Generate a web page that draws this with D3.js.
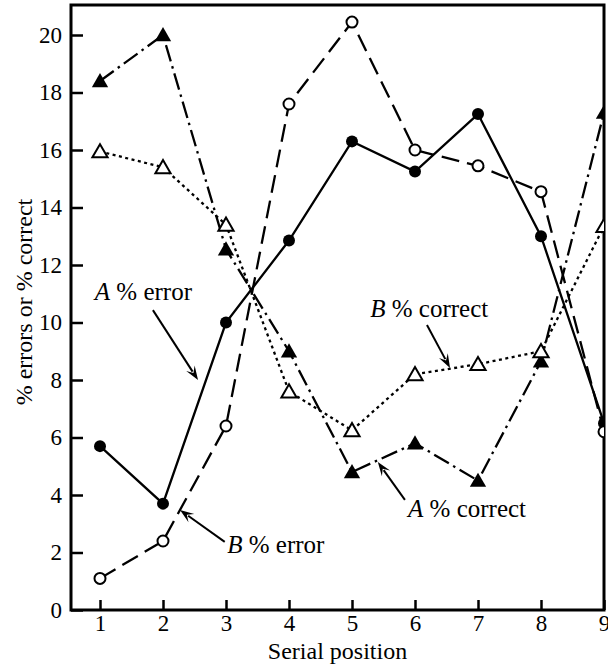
<!DOCTYPE html>
<html><head><meta charset="utf-8">
<script src="https://cdn.jsdelivr.net/npm/d3@7"></script>
<style>html,body{margin:0;padding:0;background:#fff;} svg{display:block;} svg text{font-family:"Liberation Serif","Tinos","DejaVu Serif",serif !important;fill:#000;}</style>
</head><body>
<svg id="c" width="608" height="668"></svg>
<script>
const positions = [1,2,3,4,5,6,7,8,9];
const xTicks = [1,2,3,4,5,6,7,8,9];
const yTicks = [0,2,4,6,8,10,12,14,16,18,20];
const aError   = [5.7, 3.7, 10.0, 12.85, 16.3, 15.25, 17.25, 13.0, 6.5];
const aCorrect = [18.4, 20.0, 12.55, 9.0, 4.8, 5.8, 4.5, 8.65, 17.3];
const bError   = [1.1, 2.4, 6.4, 17.6, 20.45, 16.0, 15.45, 14.55, 6.2];
const bCorrect = [15.95, 15.4, 13.4, 7.6, 6.25, 8.2, 8.55, 9.0, 13.35];
const labels = [
  {letter:"A", rest:" % error",   x:2.46, y:10.78, anchor:"end",   ax1:1.84, ay1:10.43, ax2:2.556, ay2:8.0},
  {letter:"B", rest:" % correct", x:5.29, y:10.19, anchor:"start", ax1:6.19, ay1:9.91,  ax2:6.556, ay2:8.42},
  {letter:"A", rest:" % correct", x:5.89, y:3.23,  anchor:"start", ax1:5.84, ay1:3.83,  ax2:5.41,  ay2:5.15},
  {letter:"B", rest:" % error",   x:3.02, y:1.98,  anchor:"start", ax1:2.98, ay1:2.37,  ax2:2.27,  ay2:3.48}
];

const FONT = "Liberation Serif, Tinos, DejaVu Serif, serif";
const L = 71, R = 604, T = 5, B = 610;
const x = d3.scaleLinear().domain([1, 9]).range([100, 604]);
const y = d3.scaleLinear().domain([0, 20]).range([610, 35]);

const svg = d3.select("#c");
svg.append("defs").append("clipPath").attr("id","clip")
  .append("rect").attr("x",L).attr("y",T).attr("width",R-L).attr("height",B-T);

const xAxis = d3.axisBottom(x).tickValues(xTicks).tickSize(-10).tickPadding(5).tickFormat(d3.format("d"));
const yAxis = d3.axisLeft(y).tickValues(yTicks).tickSize(-12).tickPadding(9).tickFormat(d3.format("d"));
const gx = svg.append("g").attr("transform",`translate(0,${B})`).call(xAxis);
const gy = svg.append("g").attr("transform",`translate(${L},0)`).call(yAxis);
[gx,gy].forEach(g=>{
  g.attr("font-family",FONT).attr("font-size",23);
  g.select(".domain").remove();
  g.selectAll(".tick line").attr("stroke","#000").attr("stroke-width",2.5);
  g.selectAll(".tick text").attr("font-size",23);
});
svg.append("rect").attr("x",L).attr("y",T).attr("width",R-L).attr("height",B-T)
  .attr("fill","none").attr("stroke","#000").attr("stroke-width",3);

svg.append("text").attr("x",(L+R)/2 + 0).attr("y",659).attr("text-anchor","middle")
  .attr("font-family",FONT).attr("font-size",24).text("Serial position");
svg.append("text").attr("transform","translate(32,302) rotate(-90)").attr("text-anchor","middle")
  .attr("font-family",FONT).attr("font-size",24).text("% errors or % correct");

const plot = svg.append("g").attr("clip-path","url(#clip)");
const line = d3.line().x((d,i)=>x(positions[i])).y(d=>y(d));
const series = [
  {data:aError,   dash:null,         marker:"circle",   fill:"#000"},
  {data:aCorrect, dash:"17,5,2.5,5", marker:"triangle", fill:"#000"},
  {data:bError,   dash:"18,8",       marker:"circle",   fill:"#fff"},
  {data:bCorrect, dash:"3,3.5",      marker:"triangle", fill:"#fff"}
];
series.forEach(s=>{
  plot.append("path").datum(s.data).attr("d",line).attr("fill","none")
    .attr("stroke","#000").attr("stroke-width",2.3).attr("stroke-dasharray",s.dash);
});
const tri = d3.symbol().type(d3.symbolTriangle);
series.forEach(s=>{
  const g = plot.append("g");
  s.data.forEach((v,i)=>{
    if (s.marker==="circle") {
      g.append("circle").attr("cx",x(positions[i])).attr("cy",y(v))
        .attr("r", s.fill==="#000"?6:5.5).attr("fill",s.fill).attr("stroke","#000").attr("stroke-width",s.fill==="#000"?0:2);
    } else {
      g.append("path").attr("d", tri.size(s.fill==="#000"?115:100)())
        .attr("transform",`translate(${x(positions[i])},${y(v)+1.5})`)
        .attr("fill",s.fill).attr("stroke","#000").attr("stroke-width",s.fill==="#000"?0:2);
    }
  });
});

labels.forEach(l=>{
  const t = svg.append("text").attr("x",x(l.x)).attr("y",y(l.y)).attr("text-anchor",l.anchor)
    .attr("font-family",FONT).attr("font-size",25);
  t.append("tspan").attr("font-style","italic").text(l.letter);
  t.append("tspan").text(l.rest);
  const x1=x(l.ax1), y1=y(l.ay1), x2=x(l.ax2), y2=y(l.ay2);
  const ang = Math.atan2(y2-y1, x2-x1);
  const hl = 14, hw = 5;
  const bx = x2 - hl*Math.cos(ang), by = y2 - hl*Math.sin(ang);
  svg.append("line").attr("x1",x1).attr("y1",y1).attr("x2",bx+4*Math.cos(ang)).attr("y2",by+4*Math.sin(ang))
    .attr("stroke","#000").attr("stroke-width",2);
  const px = -Math.sin(ang), py = Math.cos(ang);
  const ix = x2 - 0.6*hl*Math.cos(ang), iy = y2 - 0.6*hl*Math.sin(ang);
  svg.append("path").attr("d",`M${x2},${y2}L${bx+hw*px},${by+hw*py}L${ix},${iy}L${bx-hw*px},${by-hw*py}Z`)
    .attr("fill","#000");
});
</script>
</body></html>
